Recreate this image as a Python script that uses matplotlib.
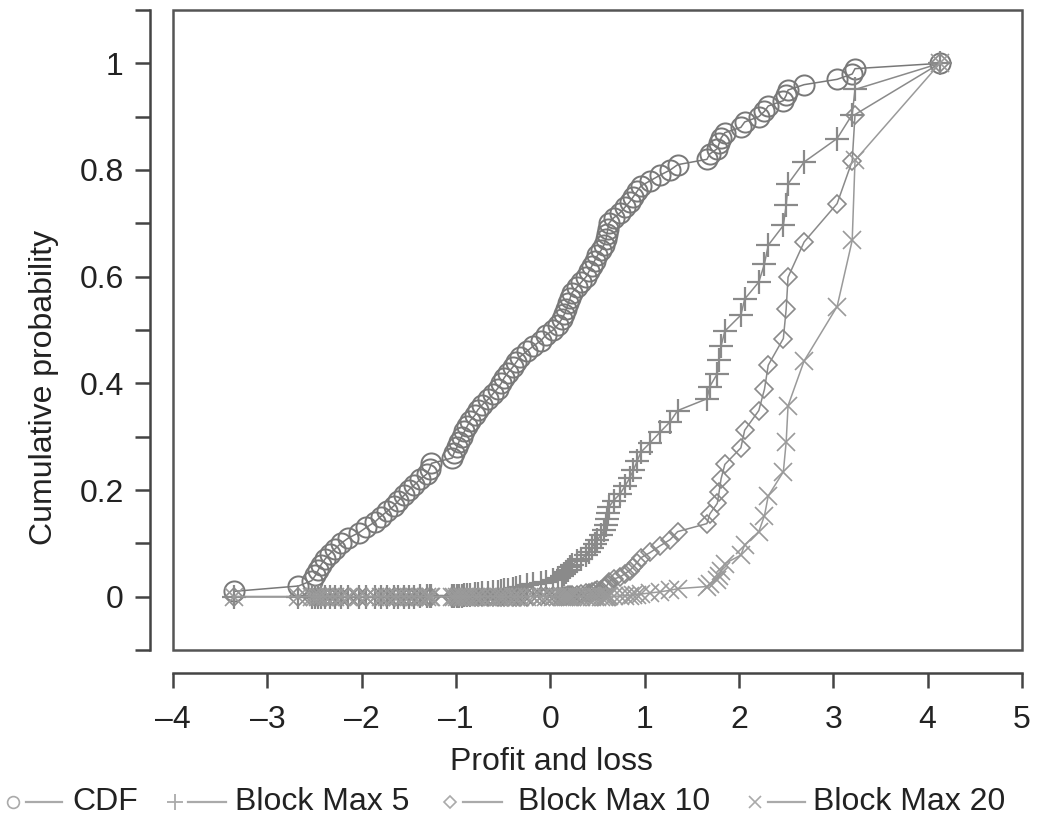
import matplotlib
matplotlib.use("Agg")
import matplotlib.pyplot as plt
from matplotlib.lines import Line2D
from matplotlib.patches import Rectangle

plt.rcParams["font.family"] = ["Liberation Sans", "DejaVu Sans"]

# sorted profit and loss sample (x of every point)
pnl = [
    -3.35, -2.67, -2.53, -2.49, -2.46, -2.43, -2.39, -2.34, -2.28, -2.22,
    -2.14, -2.03, -1.95, -1.86, -1.80, -1.73, -1.66, -1.61, -1.55, -1.50,
    -1.44, -1.38, -1.31, -1.28, -1.26, -1.04, -1.02, -0.99, -0.97, -0.94,
    -0.91, -0.88, -0.85, -0.80, -0.77, -0.72, -0.66, -0.61, -0.56, -0.52,
    -0.49, -0.45, -0.40, -0.36, -0.32, -0.25, -0.18, -0.10, -0.05, 0.03,
    0.08, 0.12, 0.15, 0.17, 0.19, 0.21, 0.23, 0.28, 0.33, 0.38,
    0.41, 0.44, 0.47, 0.50, 0.54, 0.57, 0.59, 0.60, 0.61, 0.62,
    0.67, 0.74, 0.79, 0.84, 0.88, 0.92, 0.96, 1.06, 1.16, 1.27,
    1.35, 1.66, 1.69, 1.77, 1.79, 1.81, 1.85, 2.02, 2.06, 2.21,
    2.27, 2.31, 2.47, 2.50, 2.52, 2.69, 3.04, 3.20, 3.23, 4.13,
]

cdf = [
    0.01, 0.02, 0.03, 0.04, 0.05, 0.06, 0.07, 0.08, 0.09, 0.10,
    0.11, 0.12, 0.13, 0.14, 0.15, 0.16, 0.17, 0.18, 0.19, 0.20,
    0.21, 0.22, 0.23, 0.24, 0.25, 0.26, 0.27, 0.28, 0.29, 0.30,
    0.31, 0.32, 0.33, 0.34, 0.35, 0.36, 0.37, 0.38, 0.39, 0.40,
    0.41, 0.42, 0.43, 0.44, 0.45, 0.46, 0.47, 0.48, 0.49, 0.50,
    0.51, 0.52, 0.53, 0.54, 0.55, 0.56, 0.57, 0.58, 0.59, 0.60,
    0.61, 0.62, 0.63, 0.64, 0.65, 0.66, 0.67, 0.68, 0.69, 0.70,
    0.71, 0.72, 0.73, 0.74, 0.75, 0.76, 0.77, 0.78, 0.79, 0.80,
    0.81, 0.82, 0.83, 0.84, 0.85, 0.86, 0.87, 0.88, 0.89, 0.90,
    0.91, 0.92, 0.93, 0.94, 0.95, 0.96, 0.97, 0.98, 0.99, 1.00,
]

block_max_5 = [
    0.000, 0.000, 0.000, 0.000, 0.000, 0.000, 0.000, 0.000, 0.000, 0.000,
    0.000, 0.000, 0.000, 0.000, 0.000, 0.000, 0.000, 0.000, 0.000, 0.000,
    0.000, 0.001, 0.001, 0.001, 0.001, 0.001, 0.001, 0.002, 0.002, 0.002,
    0.003, 0.003, 0.004, 0.005, 0.005, 0.006, 0.007, 0.008, 0.009, 0.010,
    0.012, 0.013, 0.015, 0.016, 0.018, 0.021, 0.023, 0.025, 0.028, 0.031,
    0.035, 0.038, 0.042, 0.046, 0.050, 0.055, 0.060, 0.066, 0.071, 0.078,
    0.084, 0.092, 0.099, 0.107, 0.116, 0.125, 0.135, 0.145, 0.156, 0.168,
    0.180, 0.193, 0.207, 0.222, 0.237, 0.254, 0.271, 0.289, 0.308, 0.328,
    0.349, 0.371, 0.394, 0.418, 0.444, 0.470, 0.498, 0.528, 0.558, 0.590,
    0.624, 0.659, 0.696, 0.734, 0.774, 0.815, 0.859, 0.904, 0.951, 1.000,
]

block_max_10 = [
    0.000, 0.000, 0.000, 0.000, 0.000, 0.000, 0.000, 0.000, 0.000, 0.000,
    0.000, 0.000, 0.000, 0.000, 0.000, 0.000, 0.000, 0.000, 0.000, 0.000,
    0.000, 0.000, 0.000, 0.000, 0.000, 0.000, 0.000, 0.000, 0.000, 0.000,
    0.000, 0.000, 0.000, 0.000, 0.000, 0.000, 0.000, 0.000, 0.000, 0.000,
    0.000, 0.000, 0.000, 0.000, 0.000, 0.000, 0.001, 0.001, 0.001, 0.001,
    0.001, 0.001, 0.002, 0.002, 0.003, 0.003, 0.004, 0.004, 0.005, 0.006,
    0.007, 0.008, 0.010, 0.012, 0.013, 0.016, 0.018, 0.021, 0.024, 0.028,
    0.033, 0.037, 0.043, 0.049, 0.056, 0.064, 0.073, 0.083, 0.095, 0.107,
    0.122, 0.137, 0.155, 0.175, 0.197, 0.221, 0.248, 0.279, 0.312, 0.349,
    0.389, 0.434, 0.484, 0.539, 0.599, 0.665, 0.737, 0.817, 0.904, 1.000,
]

block_max_20 = [
    0.000, 0.000, 0.000, 0.000, 0.000, 0.000, 0.000, 0.000, 0.000, 0.000,
    0.000, 0.000, 0.000, 0.000, 0.000, 0.000, 0.000, 0.000, 0.000, 0.000,
    0.000, 0.000, 0.000, 0.000, 0.000, 0.000, 0.000, 0.000, 0.000, 0.000,
    0.000, 0.000, 0.000, 0.000, 0.000, 0.000, 0.000, 0.000, 0.000, 0.000,
    0.000, 0.000, 0.000, 0.000, 0.000, 0.000, 0.000, 0.000, 0.000, 0.000,
    0.000, 0.000, 0.000, 0.000, 0.000, 0.000, 0.000, 0.000, 0.000, 0.000,
    0.000, 0.000, 0.000, 0.000, 0.000, 0.000, 0.000, 0.000, 0.001, 0.001,
    0.001, 0.001, 0.002, 0.002, 0.003, 0.004, 0.005, 0.007, 0.009, 0.012,
    0.015, 0.019, 0.024, 0.031, 0.039, 0.049, 0.062, 0.078, 0.097, 0.122,
    0.152, 0.189, 0.234, 0.290, 0.358, 0.442, 0.544, 0.668, 0.818, 1.000,
]

series_names = ["CDF", "Block Max 5", "Block Max 10", "Block Max 20"]
series_values = [cdf, block_max_5, block_max_10, block_max_20]

x_ticks = [-4, -3, -2, -1, 0, 1, 2, 3, 4, 5]
x_tick_labels = ["\u20134", "\u20133", "\u20132", "\u20131", "0", "1", "2", "3", "4", "5"]
y_ticks = [0, 0.2, 0.4, 0.6, 0.8, 1.0]
y_tick_labels = ["0", "0.2", "0.4", "0.6", "0.8", "1"]
y_minor_ticks = [-0.1, 0.1, 0.3, 0.5, 0.7, 0.9, 1.1]

# marker, size, edge width, colour for each series
styles = [
    dict(marker="o", ms=14.5, mew=1.4, color="#787878"),
    dict(marker="+", ms=17, mew=1.6, color="#8a8a8a"),
    dict(marker="D", ms=9.5, mew=1.2, color="#8a8a8a"),
    dict(marker="x", ms=13, mew=1.2, color="#9a9a9a"),
]
legend_styles = [
    dict(marker="o", ms=8.5, mew=1.2),
    dict(marker="+", ms=12, mew=1.3),
    dict(marker="D", ms=6.5, mew=1.2),
    dict(marker="x", ms=9, mew=1.2),
]

W, H = 1037, 818
fig = plt.figure(figsize=(W / 100, H / 100), dpi=100)
ax = fig.add_axes([173 / W, 168 / H, 849 / W, 640 / H])

for name, values, st in zip(series_names, series_values, styles):
    ax.plot(pnl, values, linestyle="-", linewidth=1.1, color=st["color"],
            marker=st["marker"], markersize=st["ms"], markeredgewidth=st["mew"],
            markerfacecolor="none", markeredgecolor=st["color"], label=name)

ax.set_xlim(-4, 5)
ax.set_ylim(-0.1, 1.1)

axis_color = "#444444"
for side in ("top", "right"):
    ax.spines[side].set_visible(False)
for side in ("left", "bottom"):
    ax.spines[side].set_position(("outward", 16.5))
    ax.spines[side].set_linewidth(1.8)
    ax.spines[side].set_color(axis_color)
ax.add_patch(Rectangle((0, 0), 1, 1, transform=ax.transAxes, fill=False,
                       linewidth=1.8, edgecolor="#555555", clip_on=False, zorder=5))

ax.set_xticks(x_ticks, labels=x_tick_labels)
ax.set_yticks(y_ticks, labels=y_tick_labels)
ax.set_yticks(y_minor_ticks, minor=True)
ax.tick_params(axis="both", which="both", direction="out", length=11, width=1.8,
               color=axis_color, labelsize=23, labelcolor="#222222")
ax.tick_params(axis="x", pad=12)
ax.tick_params(axis="y", pad=8)

ax.set_xlabel("Profit and loss", fontsize=23, color="#222222", va="center")
ax.xaxis.set_label_coords(0.446, -0.175)
ax.set_ylabel("Cumulative probability", fontsize=23, color="#222222", va="center")
ax.yaxis.set_label_coords(-0.152, 0.41)

# legend row under the x-axis label
leg_y = 1 - 802 / H
marker_x = [13, 175, 450, 755]
line_x = [(26, 62), (188, 226), (463, 502), (768, 805)]
text_x = [72, 235, 518, 813]
for name, st, mx, (l0, l1), tx in zip(series_names, legend_styles, marker_x, line_x, text_x):
    fig.add_artist(Line2D([l0 / W, l1 / W], [leg_y, leg_y], transform=fig.transFigure,
                          color="#aaaaaa", linewidth=1.6))
    fig.add_artist(Line2D([mx / W], [leg_y], transform=fig.transFigure, linestyle="none",
                          marker=st["marker"], markersize=st["ms"], markeredgewidth=st["mew"],
                          markerfacecolor="none", markeredgecolor="#aaaaaa"))
    fig.text(tx / W, leg_y, name, fontsize=23, color="#222222", ha="left", va="center")

fig.savefig("out.png", dpi=100)
